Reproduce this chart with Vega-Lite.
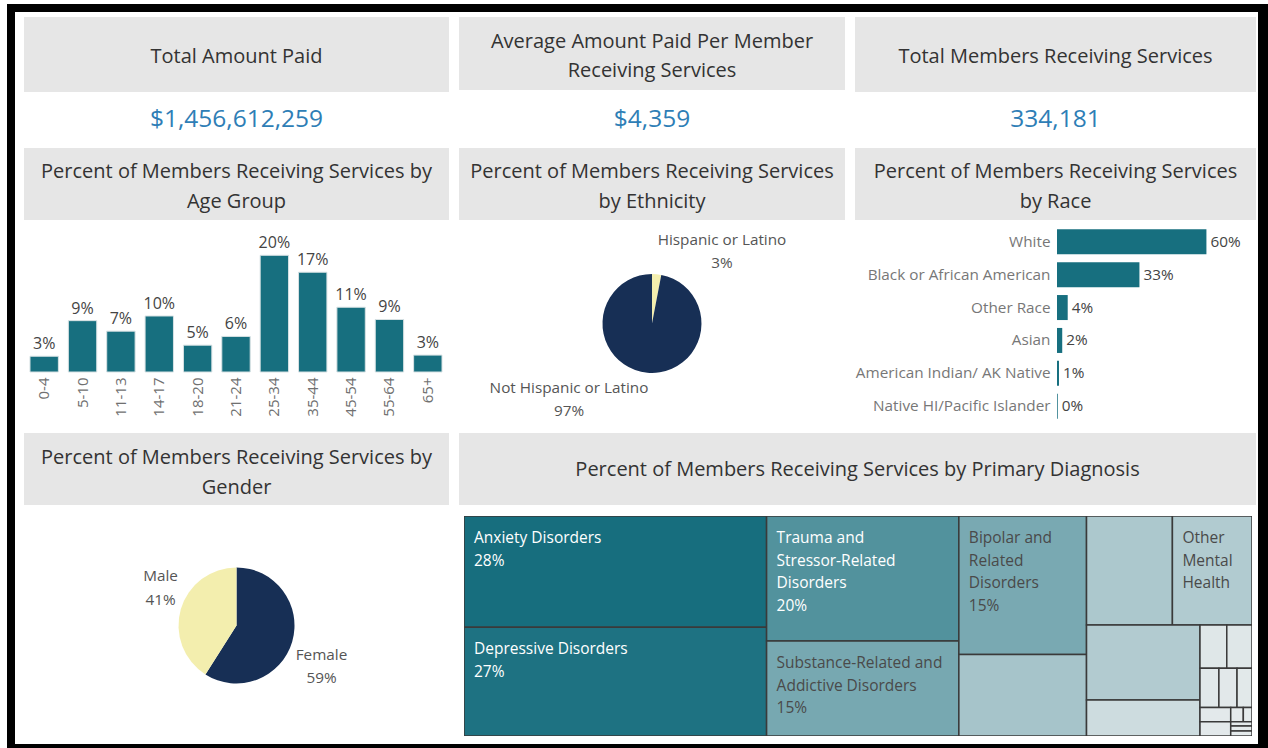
{
  "$schema": "https://vega.github.io/schema/vega-lite/v6.json",
  "background": "white",
  "padding": {"left": 7, "top": 4, "right": 0, "bottom": 0},
  "spacing": 0,
  "config": {
    "view": {"stroke": null},
    "font": "Open Sans",
    "text": {"font": "Open Sans"},
    "axis": {"labelFont": "Open Sans"}
  },
  "vconcat": [
    {"width": 1261, "height": 8, "data": {"values": []}, "mark": "point", "view": {"fill": "#000000", "stroke": null}},
    {"bounds": "flush", "spacing": 0, "hconcat": [
      {"width": 8, "height": 5, "data": {"values": []}, "mark": "point", "view": {"fill": "#000000", "stroke": null}},
      {"width": 1243, "height": 1, "data": {"values": []}, "mark": "point"},
      {"width": 10, "height": 5, "data": {"values": []}, "mark": "point", "view": {"fill": "#000000", "stroke": null}}
    ]},
    {"bounds": "flush", "spacing": 0, "hconcat": [
      {"width": 8, "height": 75, "data": {"values": []}, "mark": "point", "view": {"fill": "#000000", "stroke": null}},
      {"width": 9, "height": 1, "data": {"values": []}, "mark": "point"},
      {"width": 425, "height": 75, "view": {"fill": "#e6e6e6", "stroke": null}, "data": {"values": [{"title": "Total Amount Paid"}]},
       "mark": {"type": "text", "fontSize": 20, "color": "#333333", "lineBreak": "\n", "lineHeight": 29.5, "baseline": "middle", "align": "center", "dy": 2},
       "encoding": {"text": {"field": "title", "type": "nominal"}}},
      {"width": 10, "height": 1, "data": {"values": []}, "mark": "point"},
      {"width": 386, "height": 73, "view": {"fill": "#e6e6e6", "stroke": null}, "data": {"values": [{"title": "Average Amount Paid Per Member\nReceiving Services"}]},
       "mark": {"type": "text", "fontSize": 20, "color": "#333333", "lineBreak": "\n", "lineHeight": 29.5, "baseline": "middle", "align": "center", "dy": -12},
       "encoding": {"text": {"field": "title", "type": "nominal"}}},
      {"width": 10, "height": 1, "data": {"values": []}, "mark": "point"},
      {"width": 401, "height": 75, "view": {"fill": "#e6e6e6", "stroke": null}, "data": {"values": [{"title": "Total Members Receiving Services"}]},
       "mark": {"type": "text", "fontSize": 20, "color": "#333333", "lineBreak": "\n", "lineHeight": 29.5, "baseline": "middle", "align": "center", "dy": 2},
       "encoding": {"text": {"field": "title", "type": "nominal"}}},
      {"width": 2, "height": 1, "data": {"values": []}, "mark": "point"},
      {"width": 10, "height": 75, "data": {"values": []}, "mark": "point", "view": {"fill": "#000000", "stroke": null}}
    ]},
    {"bounds": "flush", "spacing": 0, "hconcat": [
      {"width": 8, "height": 56, "data": {"values": []}, "mark": "point", "view": {"fill": "#000000", "stroke": null}},
      {"width": 9, "height": 1, "data": {"values": []}, "mark": "point"},
      {"width": 425, "height": 56, "data": {"values": [{"v": 1456612259}]},
       "mark": {"type": "text", "fontSize": 24.5, "color": "#2e7eb6", "baseline": "middle", "align": "center"},
       "encoding": {"text": {"field": "v", "type": "quantitative", "format": "$,.0f"}}},
      {"width": 10, "height": 1, "data": {"values": []}, "mark": "point"},
      {"width": 386, "height": 56, "data": {"values": [{"v": 4359}]},
       "mark": {"type": "text", "fontSize": 24.5, "color": "#2e7eb6", "baseline": "middle", "align": "center"},
       "encoding": {"text": {"field": "v", "type": "quantitative", "format": "$,.0f"}}},
      {"width": 10, "height": 1, "data": {"values": []}, "mark": "point"},
      {"width": 401, "height": 56, "data": {"values": [{"v": 334181}]},
       "mark": {"type": "text", "fontSize": 24.5, "color": "#2e7eb6", "baseline": "middle", "align": "center"},
       "encoding": {"text": {"field": "v", "type": "quantitative", "format": ",.0f"}}},
      {"width": 2, "height": 1, "data": {"values": []}, "mark": "point"},
      {"width": 10, "height": 56, "data": {"values": []}, "mark": "point", "view": {"fill": "#000000", "stroke": null}}
    ]},
    {"bounds": "flush", "spacing": 0, "hconcat": [
      {"width": 8, "height": 72, "data": {"values": []}, "mark": "point", "view": {"fill": "#000000", "stroke": null}},
      {"width": 9, "height": 1, "data": {"values": []}, "mark": "point"},
      {"width": 425, "height": 72, "view": {"fill": "#e6e6e6", "stroke": null}, "data": {"values": [{"title": "Percent of Members Receiving Services by\nAge Group"}]},
       "mark": {"type": "text", "fontSize": 20, "color": "#333333", "lineBreak": "\n", "lineHeight": 29.5, "baseline": "middle", "align": "center", "dy": -12},
       "encoding": {"text": {"field": "title", "type": "nominal"}}},
      {"width": 10, "height": 1, "data": {"values": []}, "mark": "point"},
      {"width": 386, "height": 72, "view": {"fill": "#e6e6e6", "stroke": null}, "data": {"values": [{"title": "Percent of Members Receiving Services\nby Ethnicity"}]},
       "mark": {"type": "text", "fontSize": 20, "color": "#333333", "lineBreak": "\n", "lineHeight": 29.5, "baseline": "middle", "align": "center", "dy": -12},
       "encoding": {"text": {"field": "title", "type": "nominal"}}},
      {"width": 10, "height": 1, "data": {"values": []}, "mark": "point"},
      {"width": 401, "height": 72, "view": {"fill": "#e6e6e6", "stroke": null}, "data": {"values": [{"title": "Percent of Members Receiving Services\nby Race"}]},
       "mark": {"type": "text", "fontSize": 20, "color": "#333333", "lineBreak": "\n", "lineHeight": 29.5, "baseline": "middle", "align": "center", "dy": -12},
       "encoding": {"text": {"field": "title", "type": "nominal"}}},
      {"width": 2, "height": 1, "data": {"values": []}, "mark": "point"},
      {"width": 10, "height": 72, "data": {"values": []}, "mark": "point", "view": {"fill": "#000000", "stroke": null}}
    ]},
    {"bounds": "flush", "spacing": 0, "hconcat": [
      {"width": 8, "height": 213, "data": {"values": []}, "mark": "point", "view": {"fill": "#000000", "stroke": null}},
      {"width": 10, "height": 1, "data": {"values": []}, "mark": "point"},
      {"width": 422, "height": 152,
       "data": {"values": [
         {"age": "0-4", "pct": 0.027}, {"age": "5-10", "pct": 0.088}, {"age": "11-13", "pct": 0.070},
         {"age": "14-17", "pct": 0.096}, {"age": "18-20", "pct": 0.046}, {"age": "21-24", "pct": 0.061},
         {"age": "25-34", "pct": 0.200}, {"age": "35-44", "pct": 0.171}, {"age": "45-54", "pct": 0.111},
         {"age": "55-64", "pct": 0.090}, {"age": "65+", "pct": 0.029}
       ]},
       "encoding": {
         "x": {"field": "age", "type": "ordinal", "sort": null, "scale": {"paddingInner": 0.26, "paddingOuter": 0.13},
               "axis": {"title": null, "ticks": false, "domain": false, "grid": false, "labelAngle": -90, "labelPadding": 5, "labelFontSize": 15, "labelColor": "#707070"}},
         "y": {"field": "pct", "type": "quantitative", "scale": {"domain": [0, 0.2605], "nice": false}, "axis": null}
       },
       "layer": [
         {"mark": {"type": "bar", "color": "#176f7f", "stroke": "#d8e2e4", "strokeWidth": 1}},
         {"mark": {"type": "text", "baseline": "bottom", "dy": -4, "fontSize": 16, "color": "#444444"},
          "encoding": {"text": {"field": "pct", "type": "quantitative", "format": ".0%"}}}
       ]},
      {"width": 12, "height": 1, "data": {"values": []}, "mark": "point"},
      {"width": 386, "height": 207,
       "data": {"values": [
         {"ethnicity": "Hispanic or Latino", "pct": 0.03},
         {"ethnicity": "Not Hispanic or Latino", "pct": 0.97}
       ]},
       "transform": [{"calculate": "datum.ethnicity + '\\n' + format(datum.pct, '.0%')", "as": "label"}],
       "layer": [
         {"mark": {"type": "arc", "outerRadius": 49.5},
          "encoding": {
            "theta": {"field": "pct", "type": "quantitative", "stack": true},
            "color": {"field": "ethnicity", "type": "nominal", "scale": {"domain": ["Hispanic or Latino", "Not Hispanic or Latino"], "range": ["#f3eeae", "#172f55"]}, "legend": null},
            "order": {"field": "ethnicity", "sort": "ascending"}
          }},
         {"transform": [{"filter": "datum.ethnicity == 'Hispanic or Latino'"}],
          "mark": {"type": "text", "dx": 70, "dy": -83.5, "fontSize": 15.3, "color": "#555555", "lineBreak": "\n", "lineHeight": 23, "baseline": "middle", "align": "center"},
          "encoding": {"text": {"field": "label", "type": "nominal"}}},
         {"transform": [{"filter": "datum.ethnicity == 'Not Hispanic or Latino'"}],
          "mark": {"type": "text", "dx": -83, "dy": 64, "fontSize": 15.3, "color": "#555555", "lineBreak": "\n", "lineHeight": 23.5, "baseline": "middle", "align": "center"},
          "encoding": {"text": {"field": "label", "type": "nominal"}}}
       ]},
      {"width": 212, "height": 1, "data": {"values": []}, "mark": "point"},
      {"width": 193, "height": 208,
       "data": {"values": [
         {"race": "White", "pct": 0.60},
         {"race": "Black or African American", "pct": 0.331},
         {"race": "Other Race", "pct": 0.043},
         {"race": "Asian", "pct": 0.021},
         {"race": "American Indian/ AK Native", "pct": 0.008},
         {"race": "Native HI/Pacific Islander", "pct": 0.003}
       ]},
       "encoding": {
         "y": {"field": "race", "type": "nominal", "sort": ["White", "Black or African American", "Other Race", "Asian", "American Indian/ AK Native", "Native HI/Pacific Islander"],
               "scale": {"paddingInner": 0.24, "paddingOuter": 0.28},
               "axis": {"title": null, "ticks": false, "domain": false, "grid": false, "labelPadding": 7, "labelFontSize": 15.3, "labelColor": "#777777", "labelLimit": 300}},
         "x": {"field": "pct", "type": "quantitative", "scale": {"domain": [0, 0.775], "nice": false}, "axis": null}
       },
       "layer": [
         {"mark": {"type": "bar", "color": "#176f7f"}},
         {"mark": {"type": "text", "align": "left", "dx": 4, "fontSize": 15.3, "color": "#444444"},
          "encoding": {"text": {"field": "pct", "type": "quantitative", "format": ".0%"}}}
       ]},
      {"width": 8, "height": 1, "data": {"values": []}, "mark": "point"},
      {"width": 10, "height": 213, "data": {"values": []}, "mark": "point", "view": {"fill": "#000000", "stroke": null}}
    ]},
    {"bounds": "flush", "spacing": 0, "hconcat": [
      {"width": 8, "height": 72, "data": {"values": []}, "mark": "point", "view": {"fill": "#000000", "stroke": null}},
      {"width": 9, "height": 1, "data": {"values": []}, "mark": "point"},
      {"width": 425, "height": 72, "view": {"fill": "#e6e6e6", "stroke": null}, "data": {"values": [{"title": "Percent of Members Receiving Services by\nGender"}]},
       "mark": {"type": "text", "fontSize": 20, "color": "#333333", "lineBreak": "\n", "lineHeight": 29.5, "baseline": "middle", "align": "center", "dy": -11},
       "encoding": {"text": {"field": "title", "type": "nominal"}}},
      {"width": 10, "height": 1, "data": {"values": []}, "mark": "point"},
      {"width": 797, "height": 72, "view": {"fill": "#e6e6e6", "stroke": null}, "data": {"values": [{"title": "Percent of Members Receiving Services by Primary Diagnosis"}]},
       "mark": {"type": "text", "fontSize": 20, "color": "#333333", "lineBreak": "\n", "lineHeight": 29.5, "baseline": "middle", "align": "center", "dy": 1},
       "encoding": {"text": {"field": "title", "type": "nominal"}}},
      {"width": 2, "height": 1, "data": {"values": []}, "mark": "point"},
      {"width": 10, "height": 72, "data": {"values": []}, "mark": "point", "view": {"fill": "#000000", "stroke": null}}
    ]},
    {"bounds": "flush", "spacing": 0, "hconcat": [
      {"width": 8, "height": 11, "data": {"values": []}, "mark": "point", "view": {"fill": "#000000", "stroke": null}},
      {"width": 1243, "height": 1, "data": {"values": []}, "mark": "point"},
      {"width": 10, "height": 11, "data": {"values": []}, "mark": "point", "view": {"fill": "#000000", "stroke": null}}
    ]},
    {"bounds": "flush", "spacing": 0, "hconcat": [
      {"width": 8, "height": 228, "data": {"values": []}, "mark": "point", "view": {"fill": "#000000", "stroke": null}},
      {"width": 9, "height": 1, "data": {"values": []}, "mark": "point"},
      {"width": 425, "height": 219,
       "data": {"values": [
         {"gender": "Female", "pct": 0.59},
         {"gender": "Male", "pct": 0.41}
       ]},
       "transform": [{"calculate": "datum.gender + '\\n' + format(datum.pct, '.0%')", "as": "label"}],
       "layer": [
         {"mark": {"type": "arc", "outerRadius": 58},
          "encoding": {
            "theta": {"field": "pct", "type": "quantitative", "stack": true},
            "color": {"field": "gender", "type": "nominal", "scale": {"domain": ["Female", "Male"], "range": ["#172f55", "#f3eeae"]}, "legend": null},
            "order": {"field": "gender", "sort": "ascending"}
          }},
         {"transform": [{"filter": "datum.gender == 'Male'"}],
          "mark": {"type": "text", "dx": -76, "dy": -50, "fontSize": 15.3, "color": "#555555", "lineBreak": "\n", "lineHeight": 24, "baseline": "middle", "align": "center"},
          "encoding": {"text": {"field": "label", "type": "nominal"}}},
         {"transform": [{"filter": "datum.gender == 'Female'"}],
          "mark": {"type": "text", "dx": 85, "dy": 29.5, "fontSize": 15.3, "color": "#555555", "lineBreak": "\n", "lineHeight": 22.5, "baseline": "middle", "align": "center"},
          "encoding": {"text": {"field": "label", "type": "nominal"}}}
       ]},
      {"width": 15, "height": 1, "data": {"values": []}, "mark": "point"},
      {"width": 788, "height": 220,
       "data": {"values": [
         {"name": "Anxiety Disorders", "pct": 0.28, "x0": 0, "x1": 38.4, "y0": 0, "y1": 50.6},
         {"name": "Depressive Disorders", "pct": 0.27, "x0": 0, "x1": 38.4, "y0": 50.6, "y1": 100},
         {"name": "Trauma and\nStressor-Related\nDisorders", "pct": 0.20, "x0": 38.4, "x1": 62.8, "y0": 0, "y1": 56.8},
         {"name": "Substance-Related and\nAddictive Disorders", "pct": 0.15, "x0": 38.4, "x1": 62.8, "y0": 56.8, "y1": 100},
         {"name": "Bipolar and\nRelated\nDisorders", "pct": 0.148, "x0": 62.8, "x1": 79.0, "y0": 0, "y1": 62.9},
         {"pct": 0.087, "x0": 62.8, "x1": 79.0, "y0": 62.9, "y1": 100},
         {"pct": 0.078, "x0": 79.0, "x1": 89.9, "y0": 0, "y1": 49.5},
         {"name": "Other\nMental\nHealth", "pct": 0.072, "x0": 89.9, "x1": 100, "y0": 0, "y1": 49.5},
         {"pct": 0.071, "x0": 79.0, "x1": 93.4, "y0": 49.5, "y1": 83.6},
         {"pct": 0.034, "x0": 79.0, "x1": 93.4, "y0": 83.6, "y1": 100},
         {"pct": 0.0097, "x0": 93.4, "x1": 96.8, "y0": 49.5, "y1": 69.2},
         {"pct": 0.009, "x0": 96.8, "x1": 100, "y0": 49.5, "y1": 69.2},
         {"pct": 0.0062, "x0": 93.4, "x1": 95.8, "y0": 69.2, "y1": 87.1},
         {"pct": 0.0059, "x0": 95.8, "x1": 98.1, "y0": 69.2, "y1": 87.1},
         {"pct": 0.0049, "x0": 98.1, "x1": 100, "y0": 69.2, "y1": 87.1},
         {"pct": 0.0036, "x0": 93.4, "x1": 97.3, "y0": 87.1, "y1": 93.5},
         {"pct": 0.0036, "x0": 93.4, "x1": 97.3, "y0": 93.5, "y1": 100},
         {"pct": 0.0015, "x0": 97.3, "x1": 98.9, "y0": 87.1, "y1": 93.5},
         {"pct": 0.001, "x0": 98.9, "x1": 100, "y0": 87.1, "y1": 93.5},
         {"pct": 0.0008, "x0": 97.3, "x1": 100, "y0": 93.5, "y1": 95.5},
         {"pct": 0.0008, "x0": 97.3, "x1": 100, "y0": 95.5, "y1": 97.7},
         {"pct": 0.0008, "x0": 97.3, "x1": 100, "y0": 97.7, "y1": 100}
       ]},
       "encoding": {
         "x": {"field": "x0", "type": "quantitative", "scale": {"domain": [0, 100], "nice": false, "zero": false}, "axis": null},
         "y": {"field": "y0", "type": "quantitative", "scale": {"domain": [0, 100], "nice": false, "zero": false, "reverse": true}, "axis": null}
       },
       "layer": [
         {"mark": {"type": "rect", "stroke": "#3a3a3a", "strokeWidth": 1.5, "clip": true},
          "encoding": {
            "x2": {"field": "x1"},
            "y2": {"field": "y1"},
            "color": {"field": "pct", "type": "quantitative", "scale": {"domain": [0, 0.28], "range": ["#e6ebec", "#176e7e"], "interpolate": "rgb"}, "legend": null}
          }},
         {"transform": [
            {"filter": "isValid(datum.name)"},
            {"calculate": "datum.name + (datum.pct >= 0.1 ? '\\n' + format(datum.pct, '.0%') : '')", "as": "label"}
          ],
          "mark": {"type": "text", "align": "left", "baseline": "top", "dx": 10, "dy": 15, "fontSize": 15.5, "lineBreak": "\n", "lineHeight": 22.7},
          "encoding": {
            "text": {"field": "label", "type": "nominal"},
            "color": {"condition": {"test": "datum.pct > 0.18", "value": "#ffffff"}, "value": "#4a4a4a"}
          }}
       ]},
      {"width": 6, "height": 1, "data": {"values": []}, "mark": "point"},
      {"width": 10, "height": 228, "data": {"values": []}, "mark": "point", "view": {"fill": "#000000", "stroke": null}}
    ]},
    {"width": 1261, "height": 4, "data": {"values": []}, "mark": "point", "view": {"fill": "#000000", "stroke": null}}
  ]
}
